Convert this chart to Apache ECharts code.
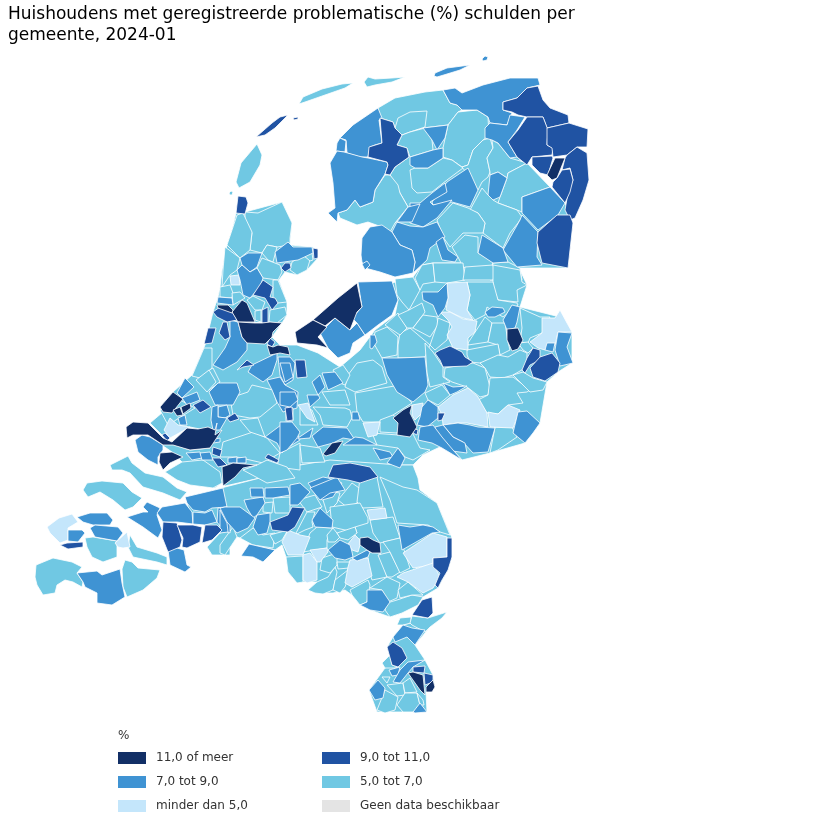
<!DOCTYPE html>
<html>
<head>
<meta charset="utf-8">
<title>Schulden per gemeente</title>
<script src="https://cdn.jsdelivr.net/npm/echarts@6/dist/echarts.min.js"></script>
<style>
  html, body { margin: 0; background: #fff; }
  #chart { width: 820px; height: 813px; }
</style>
</head>
<body>
<div id="chart"></div>
<script>
// klassen uit de legenda, de kaart geeft alleen de klasse per gemeente
const klasseLabels = ['minder dan 5,0', '5,0 tot 7,0', '7,0 tot 9,0', '9,0 tot 11,0', '11,0 of meer'];
const klasseKleuren = ['#c4e6fb', '#70c8e3', '#3f93d3', '#2053a3', '#122f66'];
const klasseWaarden = [4.5, 6, 8, 10, 12];

// gemeenten per klasse, de volgorde is ook de tekenvolgorde
const van5tot7 = ['Midden', 'Zuid', 'Noord', 'Noord-Holland', 'Zuid-Limburg', 'Horst', 'Texel', 'Terschelling', 'Ameland', 'Noorderhaaks', 'De Fryske Marren', 'Noardeast', 'Dantumadiel', 'Smallingerland', 'Westerkwartier', 'Tynaarlo', 'Assen', 'Aa en Hunze', 'Borger-Odoorn', 'Opsterland', 'Westerveld', 'Midden-Drenthe', 'Hoogeveen', 'Hollands Kroon', 'Schagen', 'Bergen', 'Opmeer', 'Drechterland', 'Koggenland', 'Dijk en Waard', 'Beemster', 'Castricum', 'Uitgeest', 'Wormerland', 'Purmerend', 'Edam', 'Nijkerk', 'Amersfoort', 'Barneveld', 'Ede', 'Woudenberg', 'Renkum', 'Wageningen', 'Kampen', 'Zwartewaterland', 'Staphorst', 'Dalfsen', 'Ommen', 'Hardenberg', 'Tubbergen', 'Almelo', 'Wierden', 'Rijssen', 'Hof van Twente', 'Bronckhorst', 'Winterswijk', 'Zutphen', 'Brummen', 'Voorst', 'Deventer', 'Epe', 'Hattem', 'Heerde', 'Oldebroek', 'Elburg', 'Nunspeet', 'Harderwijk', 'Hoeksche Waard', 'Krimpen', 'Alphen', 'Gouda', 'Nieuwkoop', 'Woerden', 'Molenlanden', 'Gorinchem', 'Vijfheerenlanden', 'Lisse', 'Wassenaar', 'Scheveningen', 'Goeree-Overflakkee', 'Schouwen-Duiveland', 'Roosendaal', 'Reimerswaal', 'Zuid-Beveland', 'Sluis', 'Hulst', 'Zundert', 'Rucphen', 'Alphen-Chaam', 'Baarle', 'Tilburg', 'Loon', 'Waalwijk', 'Heusden', 'Vught', 'Sint-Michielsgestel', 'Boxtel', 'Oss', 'Bernheze', 'Uden', 'Landerd', 'Veghel', 'Son', 'Nuenen', 'Someren', 'Reusel', 'Bladel', 'Valkenswaard', 'Cranendonck', 'Weert', 'Nederweert', 'Peel en Maas', 'Venlo', 'Beesel', 'Maasgouw', 'Sittard', 'Stein', 'Beek', 'Meerssen', 'Voerendaal', 'Gulpen', 'Vaals Noord'];
const minderDan5 = ['Heiloo', 'Bunnik', 'Rhenen', 'Zwolle', 'Raalte', 'Dinkelland', 'Lochem', 'Berkelland', 'Rozendaal', 'Maassluis', 'Veere', 'Kapelle', 'Oisterwijk', 'Veldhoven', 'Eersel', 'Geldrop', 'Deurne', 'Helmond', 'Gemert', 'Venray'];
const van7tot9 = ['Schiermonnikoog', 'Rottumeroog', 'Waadhoeke', 'Harlingen', 'Sudwest-Fryslan', 'Achtkarspelen', 'Tytsjerksteradiel', 'Het Hogeland', 'Groningen', 'Westerkwartier Oost', 'Emmer-Compascuum', 'Coevorden', 'Noordenveld', 'Heerenveen', 'Weststellingwerf', 'Ooststellingwerf', 'Noordoostpolder', 'Urk', 'Steenwijkerland', 'Meppel', 'Zeewolde', 'Dronten', 'Alkmaar', 'Medemblik', 'Langedijk', 'Haarlem', 'Haarlemmermeer', 'Amstelveen', 'Aalsmeer', 'De Ronde Venen', 'Stichtse Vecht', 'Breukelen', 'Maarssen', 'De Bilt', 'Soest', 'Baarn', 'Zeist', 'Nieuwegein', 'Utrechtse Heuvelrug', 'Tiel', 'Buren', 'Druten', 'Beuningen', 'Maasdriel', 'Twenterand', 'Hengelo', 'Losser', 'Enschede', 'Oldenzaal', 'Aalten', 'Montferland', 'Doetinchem', 'Oude IJsselstreek', 'Apeldoorn', 'Arnhem', 'Duiven', 'Westervoort', 'Leiden', 'Katwijk', 'Westland', 'Noordwijk', 'Voorne', 'Ridderkerk', 'Barendrecht', 'Zoetermeer', 'Lansingerland', 'Pijnacker', 'Alblasserdam', 'Zwijndrecht', 'Tholen', 'Bergen op Zoom', 'Breda', 'Etten-Leur', 'Goirle', 'Woensdrecht', 'Noord-Beveland', 'Middelburg', 'Goes', 'Terneuzen', 'Dongen', 'Oosterhout', 'Drimmelen', 'Geertruidenberg', 'Altena', 'Hilvarenbeek', 'Boekel', 'Neder-Betuwe', 'Meierijstad', 'Best', 'Gennep', 'Mook', 'Overbetuwe', 'Roermond', 'Roerdalen', 'Landgraaf', 'Schinnen', 'Eijsden', 'Valkenburg'];
const van9tot11 = ['Vlieland', 'Griend', 'Leeuwarden', 'Eemsdelta', 'Midden-Groningen', 'Oldambt', 'Veendam', 'Westerwolde', 'Stadskanaal', 'Emmen', 'Den Helder', 'Enkhuizen', 'Hoorn', 'Zaanstad', 'Waterland', 'Beverwijk', 'Heemskerk', 'Zandvoort', 'Diemen', 'Bloemendaal', 'Wijdemeren', 'Vianen', 'Dordrecht', 'IJsselstein', 'Den Bosch', 'Borne', 'Capelle', 'Rijswijk', 'Doesburg', 'Nijmegen Zuid', 'Papendrecht', 'Brielle', 'Sliedrecht', 'Hendrik-Ido', 'Bergen NB', 'Moerdijk', 'Halderberge', 'Steenbergen', 'Vlissingen', 'Eindhoven', 'Venlo Oost', 'Leudal', 'Echt-Susteren', 'Brunssum', 'Heerlen Noord'];
const vanaf11 = ['Pekela', 'Almere', 'Lelystad', 'Weesp', 'Amsterdam', 'Velsen', 'Hilversum', 'Tiel Oost', 'Hengelo Oost', 'Nijmegen', 'Den Haag', 'Schiedam', 'Vlaardingen', 'Rotterdam', 'Nissewaard', 'Hardinxveld', 'Cuijk', 'Heerlen', 'Kerkrade'];

const vormen = {
  'Midden': '213,312 232,312 238,322 282,323 272,337 280,345 297,345 318,353 340,367 360,350 375,330 395,315 398,300 392,283 413,277 422,265 463,263 493,265 520,270 527,285 520,307 560,317 572,332 572,363 558,372 547,382 540,423 525,443 490,453 462,460 453,450 440,447 423,455 413,465 400,465 330,465 300,465 260,478 225,486 222,483 215,488 190,485 165,472 182,462 172,452 150,437 190,450 210,448 215,432 190,427 165,438 150,423 163,412 160,407 173,392 192,375 205,345',
  'Zuid': '190,497 225,487 260,478 300,465 330,460 400,465 413,465 418,478 420,490 437,503 452,538 452,557 448,570 438,588 423,597 402,613 390,617 370,610 360,605 352,595 345,590 333,593 315,593 308,590 317,582 303,582 297,583 288,572 286,557 282,545 275,550 253,545 240,538 237,537 225,555 212,555 207,547 220,533 230,530 223,530 205,525 193,524 187,503',
  'Noord': '382,143 397,145 402,135 410,132 458,112 488,117 517,130 517,157 550,187 565,203 570,215 568,268 520,268 493,265 463,263 433,263 422,265 413,273 415,262 400,245 392,232 382,227 395,223 408,207 400,193 390,175 395,167 409,157',
  'Noord-Holland': '236,213 245,212 282,202 292,223 290,245 313,247 318,258 307,270 297,275 285,272 279,280 287,302 287,315 282,323 238,322 213,312 218,297 220,287 222,270 227,245 232,230',
  'Zuid-Limburg': '410,623 447,612 430,627 415,645 425,660 433,675 435,687 426,692 427,712 377,712 369,690 385,668 392,665 387,647 393,637 403,625',
  'Horst': '397,625 400,618 411,617 411,623 403,625',
  'Texel': '257,144 241,163 236,182 239,188 250,182 260,165 262,155',
  'Vlieland': '256,137 272,123 280,117 288,115 275,128 265,135',
  'Griend': '293,118 298,117 298,119 294,120',
  'Terschelling': '299,104 303,97 322,89 342,84 353,83 345,88 325,95 305,102',
  'Ameland': '364,82 368,77 375,79 392,78 405,77 392,82 375,85 367,87',
  'Schiermonnikoog': '434,76 435,73 447,68 470,65 460,70 447,74 437,77',
  'Rottumeroog': '482,59 485,56 488,57 487,60 483,61',
  'Noorderhaaks': '229,193 231,191 233,192 232,195 230,195',
  'Waadhoeke': '378,108 382,118 379,120 382,143 375,145 370,147 368,157 360,157 347,153 346,140 340,138 353,125',
  'Harlingen': '340,138 346,141 345,152 336,151 337,143',
  'Sudwest-Fryslan': '337,151 344,152 362,157 368,158 387,162 388,165 385,174 375,190 373,202 360,207 355,200 347,210 338,213 337,222 328,213 335,208 333,183 330,163',
  'Leeuwarden': '380,118 393,122 395,128 402,135 397,145 407,148 409,157 402,162 395,167 390,175 385,174 388,165 387,162 368,157 369,147 382,143',
  'De Fryske Marren': '385,175 390,175 398,185 400,193 408,207 395,223 390,232 382,227 368,222 357,225 340,218 338,213 347,210 355,200 360,207 373,202 375,190',
  'Noardeast': '378,108 395,98 425,92 443,90 450,103 457,105 462,110 458,112 448,125 423,128 410,132 402,135 395,128 393,122 380,118',
  'Dantumadiel': '410,112 427,111 425,127 410,132 402,135 395,128 398,118',
  'Achtkarspelen': '423,128 448,125 445,138 437,150 432,140',
  'Smallingerland': '410,132 425,128 432,140 433,150 410,157 409,157 407,148 397,145 402,135',
  'Tytsjerksteradiel': '410,157 433,150 443,148 443,158 428,168 415,168 410,165',
  'Westerkwartier': '458,112 477,110 488,117 489,135 483,140 473,150 468,165 462,167 452,160 443,157 443,148 448,125',
  'Het Hogeland': '443,90 455,88 462,93 483,85 510,78 538,78 540,85 527,88 517,98 503,102 503,110 512,113 507,125 490,123 488,117 477,110 462,110 457,105 450,103',
  'Eemsdelta': '503,102 517,98 527,88 538,86 543,100 550,108 568,115 569,123 547,128 543,117 527,117 518,115 512,112 503,110',
  'Midden-Groningen': '527,117 543,117 548,130 547,145 553,148 552,155 532,157 527,165 517,157 508,142 518,130',
  'Oldambt': '547,128 569,123 588,129 587,147 577,147 567,155 553,157 552,148 547,145',
  'Veendam': '532,157 552,156 553,158 548,175 540,173 532,165',
  'Pekela': '555,158 565,158 557,178 552,180 547,175',
  'Westerwolde': '565,158 567,155 577,147 587,153 589,180 583,200 575,218 570,220 565,210 568,193 573,180 570,168 562,170',
  'Stadskanaal': '562,170 570,169 573,180 570,192 565,203 552,187 553,182 557,178',
  'Groningen': '485,128 490,123 507,125 510,115 525,117 517,130 508,142 517,157 510,158 498,143 492,140 485,138',
  'Tynaarlo': '468,165 473,150 483,140 490,138 493,148 487,158 490,172 488,177 482,182 478,190 468,175 462,167',
  'Assen': '492,140 498,143 510,158 527,163 508,173 507,178 498,172 490,175 490,172 487,158 493,148',
  'Westerkwartier Oost': '490,175 498,172 507,178 500,197 493,200 488,195',
  'Aa en Hunze': '508,173 527,163 550,187 522,197 522,212 517,210 498,203 500,197 507,178',
  'Emmer-Compascuum': '522,197 550,187 565,203 558,215 538,230 522,213',
  'Emmen': '538,232 557,215 570,215 573,223 568,268 542,263 537,243',
  'Coevorden': '522,215 538,232 537,257 542,265 517,267 503,250 520,220',
  'Borger-Odoorn': '470,210 482,188 488,195 493,200 498,203 517,210 522,217 518,223 510,233 503,248 483,233 485,223 478,213',
  'Noordenveld': '432,202 447,182 468,168 478,190 470,207 452,202 433,205',
  'Opsterland': '410,170 415,168 428,168 443,158 452,160 463,168 447,180 432,192 417,193 412,188',
  'Heerenveen': '410,203 420,203 432,193 445,183 447,192 430,202 433,205 452,200 437,218 423,227 410,223',
  'Westerveld': '437,220 453,203 468,208 478,213 485,223 483,233 463,233 450,247 443,237',
  'Weststellingwerf': '392,232 397,222 410,226 423,227 437,222 445,237 430,248 427,260 413,273 415,262 412,250 400,245',
  'Ooststellingwerf': '397,222 408,207 420,204 412,222',
  'Noordoostpolder': '361,255 362,238 370,227 382,225 392,232 400,245 412,250 415,262 413,273 395,277 380,272 365,268 362,262',
  'Urk': '362,264 367,261 370,265 365,270',
  'Steenwijkerland': '436,242 443,237 448,250 458,257 455,262 442,260',
  'Midden-Drenthe': '452,247 465,235 478,237 478,253 493,262 490,273 463,267 458,257',
  'Meppel': '482,235 503,248 508,262 493,263 478,253',
  'Hoogeveen': '493,263 508,262 520,268 522,280 490,280',
  'Almere': '313,320 338,298 357,283 362,307 357,312 350,330 335,318 325,326',
  'Lelystad': '295,332 313,320 327,327 318,337 328,348 317,345 297,343',
  'Zeewolde': '320,333 335,318 350,330 357,323 365,335 353,343 350,353 338,358 328,348',
  'Dronten': '358,282 392,281 398,300 392,315 378,325 365,335 357,323 352,318 362,307',
  'Den Helder': '238,196 246,197 248,203 245,214 236,213',
  'Hollands Kroon': '245,212 258,213 282,202 292,223 290,238 290,245 277,247 267,245 262,253 250,250 252,233 245,222',
  'Schagen': '237,215 243,213 252,232 250,250 240,258 227,245 232,230',
  'Bergen': '225,247 240,258 237,270 230,275 222,287 223,270',
  'Alkmaar': '240,258 248,253 262,253 257,267 250,272 242,265',
  'Opmeer': '262,253 267,245 277,247 273,262 268,260',
  'Medemblik': '275,252 288,242 293,247 312,247 313,253 298,260 277,263',
  'Enkhuizen': '313,248 318,249 318,258 314,259',
  'Drechterland': '292,262 303,255 310,260 307,270 297,275 290,270',
  'Koggenland': '303,255 312,253 313,260 310,261',
  'Hoorn': '285,263 290,263 291,268 285,272 281,268',
  'Dijk en Waard': '257,268 262,258 280,265 282,272 278,280 263,278',
  'Langedijk': '237,270 242,265 250,272 257,268 263,278 260,287 250,298 243,295 240,280',
  'Heiloo': '230,276 239,275 240,285 231,285',
  'Zaanstad': '253,295 263,280 273,287 270,297 275,298 278,303 272,310 265,298',
  'Beemster': '273,280 278,280 287,302 278,303 273,298 272,298 273,287',
  'Castricum': '220,287 230,285 233,293 232,298 220,297',
  'Uitgeest': '232,293 240,292 245,298 233,305',
  'Haarlem': '218,297 232,298 233,305 217,303',
  'Wormerland': '247,300 253,296 265,302 262,310 255,310',
  'Purmerend': '270,310 285,307 287,315 277,323 269,322',
  'Waterland': '262,310 268,307 268,323 262,323',
  'Edam': '255,311 261,310 261,322 255,320',
  'Weesp': '232,312 242,300 247,303 255,322 238,322',
  'Amsterdam': '238,322 255,323 262,323 270,322 282,323 273,332 272,337 265,344 247,343 242,337',
  'Velsen': '217,305 228,305 233,310 232,313 218,308',
  'Beverwijk': '213,312 220,307 233,313 237,320 227,322 217,317',
  'Heemskerk': '223,322 227,322 230,337 225,340 219,333',
  'Zandvoort': '208,328 216,328 212,343 204,344',
  'Haarlemmermeer': '230,320 238,322 242,337 247,343 247,350 237,362 223,370 213,365 225,348 230,337',
  'Diemen': '270,338 275,342 272,347 267,344',
  'Hilversum': '267,345 273,347 278,345 288,347 290,355 280,353 270,355',
  'Bloemendaal': '237,370 247,360 254,365 243,367',
  'Amstelveen': '252,365 277,353 277,360 272,375 263,382 248,372',
  'Aalsmeer': '278,357 290,357 295,363 293,380 285,385 280,375',
  'Wijdemeren': '295,360 305,360 307,377 297,378',
  'De Ronde Venen': '267,380 280,377 285,385 298,392 297,408 283,412 277,402 272,390',
  'Vianen': '286,408 293,408 293,421 286,421',
  'Stichtse Vecht': '265,437 285,422 295,428 300,440 287,448 282,453 277,443',
  'Dordrecht': '265,458 268,454 279,460 277,463',
  'Breukelen': '312,382 320,375 325,387 318,395',
  'Maarssen': '322,373 335,372 343,383 328,390',
  'De Bilt': '307,395 318,395 320,398 310,407',
  'Soest': '280,363 290,363 293,377 285,382',
  'Baarn': '280,392 295,392 298,400 290,407 280,405',
  'IJsselstein': '285,408 292,407 293,420 287,421',
  'Bunnik': '298,405 308,403 315,422 307,418',
  'Zeist': '280,422 292,422 300,432 297,438 287,450 280,453',
  'Nieuwegein': '298,438 313,428 310,438 298,439',
  'Utrechtse Heuvelrug': '352,412 358,412 360,420 352,420',
  'Nijkerk': '348,375 357,363 373,360 382,367 387,383 355,392 345,387',
  'Amersfoort': '355,393 400,385 403,393 412,403 393,415 390,422 377,422 363,422 357,412',
  'Barneveld': '313,407 345,408 350,410 352,418 347,427 323,425 320,415',
  'Ede': '333,370 343,365 350,375 345,385 340,383',
  'Woudenberg': '322,392 345,390 350,405 330,405',
  'Renkum': '380,420 393,415 402,422 397,433 380,432',
  'Wageningen': '398,435 412,432 420,448 430,450 413,460 405,457 398,448 377,445 372,433',
  'Rhenen': '363,423 380,422 377,435 368,437',
  'Tiel': '312,436 323,427 347,428 355,440 343,438 333,443 318,447',
  'Tiel Oost': '323,454 332,443 343,441 335,453 326,456',
  'Buren': '343,445 355,437 363,438 377,445 353,445',
  'Druten': '373,448 390,452 393,457 380,460',
  'Beuningen': '387,463 398,448 405,458 400,468',
  'Den Bosch': '328,477 333,465 350,463 370,467 378,477 360,483 348,480',
  'Maasdriel': '308,483 323,477 328,478 342,483 333,497 322,500 315,493',
  // Overijssel en Gelderland
  'Kampen': '395,279 413,277 420,290 409,310 402,302 397,295',
  'Zwartewaterland': '415,278 422,265 433,263 435,282 423,284 420,290',
  'Staphorst': '433,263 463,263 465,280 447,283 435,282',
  'Dalfsen': '465,267 493,265 495,273 493,280 470,280 463,280',
  'Ommen': '493,265 520,270 522,282 527,285 517,290 518,302 498,300 493,287',
  'Hardenberg': '467,282 493,282 498,300 517,303 518,305 503,317 487,307 485,315 475,320 467,310 470,295',
  'Twenterand': '422,292 438,292 447,283 448,298 445,308 438,317 433,305 423,300',
  'Zwolle': '447,283 467,282 470,295 467,310 473,320 463,318 450,312 446,310 448,297',
  'Hengelo': '485,312 492,307 503,308 505,312 495,317 488,317',
  'Raalte': '440,312 450,312 463,319 477,321 475,332 468,338 468,350 453,348 447,335 452,327 448,320',
  'Losser': '512,305 520,307 517,322 515,328 507,330 503,320',
  'Tubbergen': '520,308 540,317 550,317 542,333 530,338 528,343 520,342 522,328',
  'Dinkelland': '542,318 555,318 560,310 567,323 572,332 558,332 555,345 545,350 538,348 530,342 542,333',
  'Enschede': '558,332 572,333 567,347 573,363 560,366 555,350',
  'Oldenzaal': '547,343 555,343 553,352 545,350',
  'Hengelo Oost': '507,329 518,328 523,340 518,349 512,351 507,340',
  'Almelo': '518,343 528,342 533,348 528,353 523,350',
  'Borne': '533,348 540,350 540,360 530,365 525,373 522,370 527,358',
  'Capelle': '540,357 552,353 560,363 558,372 545,381 533,377 530,368',
  'Wierden': '468,343 485,317 492,323 488,342 468,345',
  'Rijssen': '492,323 505,323 508,342 510,350 500,355 498,345 488,342',
  'Hof van Twente': '467,350 498,344 500,355 485,362 480,363 470,362 467,355',
  'Rijswijk': '435,353 440,350 450,346 462,352 465,357 473,362 467,366 443,367 440,360',
  'Bronckhorst': '480,363 498,355 508,357 520,350 527,353 527,367 513,375 503,378 490,377 485,368',
  'Winterswijk': '445,368 473,363 485,368 490,387 488,395 480,397 467,387 452,382 444,377',
  'Zutphen': '490,378 513,377 530,390 527,392 517,393 523,403 508,405 498,414 487,413 478,400 488,395',
  'Brummen': '513,375 523,372 533,378 547,382 543,390 530,392',
  'Lochem': '438,407 453,395 468,388 478,397 487,413 488,427 467,423 457,423 443,425 442,415',
  'Berkelland': '488,412 498,414 508,405 520,410 513,428 490,427',
  'Aalten': '518,412 527,411 540,423 533,433 525,443 513,433',
  'Voorst': '495,427 512,427 517,437 498,450 490,453',
  'Montferland': '443,425 458,423 470,425 478,427 495,428 488,452 473,453 463,442 453,437',
  'Doetinchem': '435,427 443,425 453,437 465,443 467,453 445,450 435,437',
  'Deventer': '398,345 400,333 410,328 430,345 425,357 398,358',
  'Epe': '375,332 387,327 398,337 397,355 382,358 373,342',
  'Hattem': '385,325 398,313 407,328 400,335',
  'Heerde': '398,315 409,310 422,303 425,312 413,328 407,328',
  'Oldebroek': '413,328 423,315 437,317 438,325 430,337',
  'Elburg': '438,318 450,323 447,340 435,350 430,345 437,325',
  'Oude IJsselstreek': '370,335 375,335 377,342 372,349 370,348',
  'Apeldoorn': '382,358 398,358 425,357 428,385 425,392 413,402 397,392 387,375',
  'Nunspeet': '425,343 433,352 443,367 443,377 450,382 430,387 427,373',
  'Arnhem': '443,383 453,387 467,386 457,392 450,395',
  'Harderwijk': '425,393 442,385 450,395 438,405 428,400',
  'Nijmegen': '412,405 410,413 417,427 410,437 397,435 398,423 393,418 403,410',
  'Rozendaal': '412,405 423,403 422,413 415,420 412,415',
  'Duiven': '422,407 428,400 438,407 438,418 427,427 417,425 420,417',
  'Doesburg': '438,413 445,413 442,420 438,421',
  'Westervoort': '420,427 433,425 442,437 453,450 462,460 442,448 432,443 418,440',
  'Nijmegen Zuid': '413,428 418,430 417,435 413,433',
  // Zuid-Holland en Utrecht west
  'Leiden': '209,392 218,383 237,383 240,392 233,405 215,405',
  'Katwijk': '177,393 185,378 194,387 182,398',
  'Den Haag': '160,407 173,392 183,399 172,413 163,412',
  'Westland': '182,398 197,392 200,400 187,405',
  'Schiedam': '173,410 180,407 183,415 177,416',
  'Vlaardingen': '181,407 190,403 191,408 183,414',
  'Papendrecht': '193,405 203,400 211,407 200,413',
  'Maassluis': '164,430 170,418 178,425 190,427 170,438',
  'Noordwijk': '178,418 185,415 187,425 180,425',
  'Brielle': '162,435 165,433 170,438 167,441',
  'Rotterdam': '126,427 133,422 148,423 163,438 172,442 187,428 198,429 208,427 215,430 217,423 215,435 222,430 210,448 190,450 173,445 163,445 148,435 133,435 127,438',
  'Voorne': '135,440 142,435 150,437 163,445 163,450 158,457 158,465 148,460 138,452',
  'Nissewaard': '160,453 172,452 183,457 170,463 163,470 159,462',
  'Ridderkerk': '186,453 200,452 202,458 192,460',
  'Barendrecht': '200,453 210,452 213,460 202,460',
  'Sliedrecht': '213,447 222,450 220,457 212,454',
  'Hendrik-Ido': '212,458 220,458 227,465 218,467',
  'Hoeksche Waard': '165,472 182,462 203,460 220,472 222,483 213,488 190,485 177,480',
  'Hardinxveld': '222,467 233,463 257,465 243,468 235,477 223,486',
  'Zoetermeer': '218,407 227,405 230,415 225,418 218,417',
  'Lansingerland': '212,407 218,405 218,417 227,418 220,430 213,430 211,420',
  'Bergen NB': '227,418 235,413 239,419 230,422',
  'Pijnacker': '210,440 220,438 220,442 213,443',
  'Alblasserdam': '228,458 237,457 237,463 228,463',
  'Zwijndrecht': '237,458 246,457 246,463 237,463',
  'Krimpen': '223,442 253,432 267,438 280,453 263,463 237,457 220,457',
  'Alphen': '230,398 248,392 252,385 273,390 277,403 260,417 250,418 233,415',
  'Gouda': '280,453 300,443 300,470 277,467',
  'Nieuwkoop': '240,420 258,418 265,437 250,432',
  'Woerden': '300,408 312,410 318,425 300,425',
  'Molenlanden': '257,465 267,460 287,467 295,478 267,483 243,470',
  'Gorinchem': '205,372 213,368 220,382 209,390',
  'Vijfheerenlanden': '300,445 320,448 325,462 302,463',
  'Lisse': '192,376 204,348 212,348 212,368 200,378',
  'Wassenaar': '196,380 209,370 216,382 207,392',
  'Scheveningen': '160,410 180,400 195,408 168,425',
  // Zeeland
  'Goeree-Overflakkee': '110,465 128,456 132,463 145,473 163,477 177,488 187,492 180,500 163,493 143,487 130,473 122,470 112,470',
  'Schouwen-Duiveland': '83,490 87,483 102,481 123,483 132,492 142,498 133,507 125,510 113,500 100,492 88,497',
  'Tholen': '127,517 143,512 148,512 143,507 147,502 160,508 157,515 162,530 158,538 143,527',
  'Bergen op Zoom': '157,513 162,507 185,503 192,512 193,524 177,522 163,522',
  'Breda': '185,497 223,488 227,507 212,508 205,512 193,510 187,503',
  'Etten-Leur': '193,512 205,513 212,510 217,522 205,525 193,524',
  'Goirle': '218,508 227,507 230,513 230,533 223,530 217,522',
  'Moerdijk': '163,522 177,523 182,540 180,547 168,552 162,537',
  'Halderberge': '177,525 193,525 202,527 203,528 200,542 187,548 182,547 183,538',
  'Steenbergen': '205,525 217,525 222,530 212,540 202,543',
  'Woensdrecht': '168,550 177,548 184,550 187,565 191,567 185,572 170,565',
  'Roosendaal': '207,547 220,533 230,530 230,555 212,555',
  'Reimerswaal': '130,535 137,547 157,553 167,557 167,565 157,562 133,557 128,547',
  'Veere': '47,527 59,518 72,514 78,522 68,528 68,540 60,543 50,533',
  'Noord-Beveland': '77,517 90,513 107,513 113,520 110,525 93,525 83,522',
  'Middelburg': '68,530 82,530 85,533 78,542 68,541',
  'Goes': '90,528 95,525 118,527 123,533 117,541 95,537',
  'Vlissingen': '60,545 67,543 83,542 83,547 68,549',
  'Zuid-Beveland': '85,538 93,537 117,541 117,557 103,562 92,557 87,547',
  'Kapelle': '115,543 127,532 130,547 123,548 118,547',
  'Sluis': '36,565 53,558 72,562 82,567 77,573 83,582 82,587 73,582 65,580 57,585 55,593 43,595 37,585 35,577',
  'Terneuzen': '77,573 97,571 102,575 120,569 122,583 125,597 112,605 97,603 97,593 85,587 83,582',
  'Hulst': '122,569 125,560 132,562 138,568 160,570 157,578 143,590 127,597 123,587',
  // Brabant en Noord-Limburg
  'Dongen': '244,500 263,497 265,503 257,515 253,518 247,508',
  'Zundert': '263,503 273,502 272,513 263,512',
  'Rucphen': '273,498 290,497 290,513 275,513',
  'Oosterhout': '250,488 263,488 264,497 251,497',
  'Drimmelen': '265,488 288,487 290,495 273,498 265,498',
  'Geertruidenberg': '290,485 300,483 310,492 298,505 290,505',
  'Altena': '310,488 337,477 345,490 330,493 320,500',
  'Alphen-Chaam': '298,500 315,495 322,507 307,512',
  'Baarle': '323,500 333,492 340,493 337,503 327,513',
  'Tilburg': '338,500 352,483 362,490 357,503 348,508',
  'Loon': '360,478 377,477 383,507 363,508 357,502',
  'Waalwijk': '380,477 403,487 417,490 437,503 450,535 440,532 428,525 397,523 390,500',
  'Oisterwijk': '367,510 385,508 387,518 370,520',
  'Heusden': '370,520 393,517 400,538 380,543 373,533',
  'Vught': '330,507 360,503 368,518 368,523 355,527 357,533 345,530 332,527',
  'Hilvarenbeek': '253,527 257,515 270,513 270,522 267,533 258,535',
  'Boekel': '220,508 225,507 240,507 255,518 248,528 237,533 227,522',
  'Neder-Betuwe': '220,510 227,523 228,532 220,533',
  'Sint-Michielsgestel': '220,545 233,527 237,537 225,555 220,553',
  'Boxtel': '240,538 253,528 263,535 275,533 273,548 253,545',
  'Oss': '270,535 288,530 282,540 275,544',
  'Eindhoven': '270,522 288,515 292,507 305,508 295,527 288,532 272,530',
  'Meierijstad': '312,520 320,508 333,520 332,528 315,527',
  'Bernheze': '295,535 307,512 315,512 312,522 313,527 305,530',
  'Veldhoven': '282,542 288,530 300,535 310,537 303,555 288,555',
  'Uden': '303,552 310,533 317,527 333,528 327,540 327,548',
  'Landerd': '327,535 333,528 340,537 335,542 328,542',
  'Veghel': '337,533 355,527 357,533 348,540 340,538',
  'Best': '249,544 275,550 263,562 253,557 241,556',
  'Son': '286,557 303,556 303,582 297,583 288,572',
  'Eersel': '303,555 310,553 317,562 317,580 307,583 303,580',
  'Nuenen': '308,590 317,582 328,577 335,567 337,572 333,590 323,594 315,593',
  'Someren': '333,590 335,580 348,570 350,573 345,587 340,593',
  'Geldrop': '345,583 348,567 350,560 368,558 372,576 352,587',
  'Deurne': '310,550 327,548 328,552 320,562 317,562',
  'Reusel': '322,558 337,553 337,565 330,573 320,570',
  'Bladel': '337,562 350,562 349,568 338,569',
  'Cuijk': '360,538 368,537 373,540 380,543 381,553 372,553 367,550 360,545',
  'Helmond': '348,544 355,535 360,540 360,545 358,552 352,550',
  'Gennep': '328,550 340,540 350,545 352,552 353,557 345,560 335,558',
  'Mook': '352,558 367,550 370,552 368,557 357,561',
  'Valkenswaard': '368,552 380,553 387,577 372,580 368,567',
  'Cranendonck': '378,555 390,552 400,572 392,577 387,577',
  'Weert': '383,542 400,538 410,568 400,573 390,552',
  'Overbetuwe': '398,525 402,550 432,533 440,532 433,527 423,525 410,527',
  'Gemert': '403,553 433,533 447,537 447,557 433,558 433,565 413,568',
  'Venray': '397,577 403,573 433,563 440,577 433,588 423,593 408,582',
  'Venlo Oost': '447,538 452,538 452,557 448,570 442,580 438,588 435,585 440,573 433,567 433,558 447,557',
  'Nederweert': '350,590 368,580 370,585 367,602 360,605 352,595',
  'Peel en Maas': '370,588 387,577 400,583 397,598 388,602 382,590',
  'Roermond': '367,590 382,590 390,602 383,612 370,610 360,605 367,602',
  'Venlo': '387,603 397,600 412,595 423,597 418,605 402,613 390,617 385,610',
  'Beesel': '398,590 408,582 423,595 412,595 400,598',
  // Zuid-Limburg
  'Leudal': '412,615 422,600 432,597 433,613 428,618',
  'Maasgouw': '410,623 412,616 428,618 447,612 442,618 430,627 425,632 412,625',
  'Roerdalen': '393,637 403,625 412,628 425,630 415,645 407,637 395,642',
  'Echt-Susteren': '387,647 393,642 402,648 407,658 398,667 392,665',
  'Sittard': '382,663 390,655 392,665 398,667 395,668 385,668',
  'Landgraaf': '389,670 400,667 398,675 392,676',
  'Schinnen': '393,682 400,670 408,662 425,660 413,667 408,673 400,683',
  'Brunssum': '413,667 425,666 424,673 413,672',
  'Heerlen': '408,673 413,672 423,675 425,695 420,690',
  'Heerlen Noord': '424,673 433,675 433,682 425,685',
  'Kerkrade': '426,687 433,680 435,687 432,692 426,692',
  'Eijsden': '369,690 378,680 385,688 383,698 375,700',
  'Stein': '382,677 390,677 387,683',
  'Beek': '387,685 403,683 405,695 397,696',
  'Meerssen': '403,683 410,678 417,692 405,693',
  'Voerendaal': '377,710 385,690 398,697 395,710 385,713',
  'Gulpen': '397,705 405,693 417,693 420,705 413,712 403,712',
  'Vaals Noord': '417,693 423,700 424,705 420,705',
  'Valkenburg': '413,712 420,703 427,712 415,713'
};

const klassen = [van5tot7, minderDan5, van7tot9, van9tot11, vanaf11];
const klasseIndex = [1, 0, 2, 3, 4];

const gemeenten = klassen.flat();
const kaart = {
  type: 'FeatureCollection',
  features: gemeenten.map(naam => {
    const ring = vormen[naam].split(' ').map(p => {
      const xy = p.split(',').map(Number);
      return [xy[0], -xy[1]];
    });
    ring.push(ring[0]);
    return { type: 'Feature', properties: { name: naam }, geometry: { type: 'Polygon', coordinates: [ring] } };
  })
};
echarts.registerMap('nl', kaart);

const reeks = [];
klassen.forEach((lijst, i) => {
  lijst.forEach(naam => reeks.push({ name: naam, value: klasseWaarden[klasseIndex[i]] }));
});

const stukken = {
  laag: { lt: 5, label: klasseLabels[0], color: klasseKleuren[0] },
  vijf: { gte: 5, lt: 7, label: klasseLabels[1], color: klasseKleuren[1] },
  zeven: { gte: 7, lt: 9, label: klasseLabels[2], color: klasseKleuren[2] },
  negen: { gte: 9, lt: 11, label: klasseLabels[3], color: klasseKleuren[3] },
  hoog: { gte: 11, label: klasseLabels[4], color: klasseKleuren[4] }
};

// de twee zichtbare legendakolommen sturen geen reeks aan, de verborgen visualMap kleurt de kaart
const legendaStijl = {
  type: 'piecewise',
  seriesIndex: [],
  orient: 'vertical',
  selectedMode: false,
  hoverLink: false,
  itemSymbol: 'rect',
  itemWidth: 28,
  itemHeight: 12,
  itemGap: 12,
  textGap: 10,
  align: 'left',
  padding: 0,
  top: 752,
  textStyle: { fontFamily: 'DejaVu Sans', fontSize: 12, color: '#333' }
};

const chart = echarts.init(document.getElementById('chart'), null, { renderer: 'canvas' });
chart.setOption({
  animation: false,
  backgroundColor: '#fff',
  title: [
    {
      text: 'Huishoudens met geregistreerde problematische (%) schulden per\ngemeente, 2024-01',
      left: 8, top: 4, padding: 0,
      textStyle: { fontFamily: 'DejaVu Sans', fontSize: 17, fontWeight: 'normal', color: '#000', lineHeight: 21 }
    },
    {
      text: '%',
      left: 118, top: 730, padding: 0,
      textStyle: { fontFamily: 'DejaVu Sans', fontSize: 12, fontWeight: 'normal', color: '#333' }
    }
  ],
  visualMap: [
    {
      type: 'piecewise',
      show: false,
      seriesIndex: 0,
      pieces: [stukken.laag, stukken.vijf, stukken.zeven, stukken.negen, stukken.hoog]
    },
    Object.assign({}, legendaStijl, {
      left: 118,
      pieces: [stukken.hoog, stukken.zeven, stukken.laag]
    }),
    Object.assign({}, legendaStijl, {
      left: 322,
      pieces: [{ value: -1, label: 'Geen data beschikbaar', color: '#e4e4e4' }, stukken.negen, stukken.vijf]
    })
  ],
  series: [{
    type: 'map',
    map: 'nl',
    left: 0, top: 0, width: 820, height: 813,
    aspectScale: 1,
    boundingCoords: [[0, 0], [820, -813]],
    roam: false,
    silent: true,
    selectedMode: false,
    label: { show: false },
    itemStyle: { borderColor: '#fff', borderWidth: 0.8, areaColor: klasseKleuren[1] },
    data: reeks
  }]
});
</script>
</body>
</html>
